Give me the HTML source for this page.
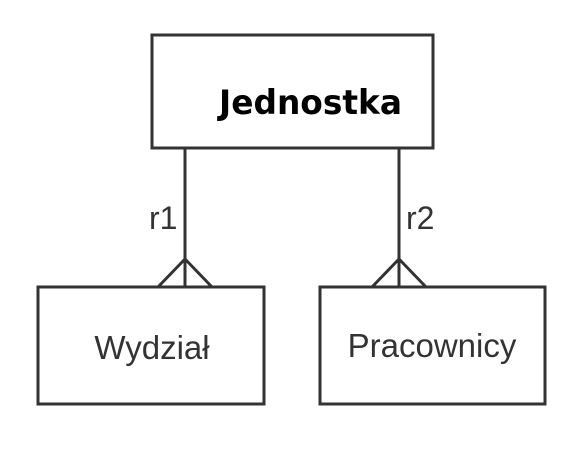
<!DOCTYPE html>
<html><head><style>html,body{margin:0;padding:0;background:#fff;}</style></head>
<body>
<svg width="587" height="445" viewBox="0 0 587 445" xmlns="http://www.w3.org/2000/svg">
<g fill="none" stroke="#333" stroke-width="3">
<rect x="152" y="35" width="281" height="113"/>
<rect x="38" y="287" width="226" height="117"/>
<rect x="320" y="287" width="225" height="117"/>
<line x1="185" y1="148" x2="185" y2="287"/>
<line x1="399" y1="148" x2="399" y2="287"/>
<polyline points="158,287 185,259 212,287"/>
<polyline points="372,287 399,259 426,287"/>
</g>
<text x="219" y="114" font-family="DejaVu Sans, sans-serif" font-weight="bold" font-size="34" fill="#000" textLength="183" lengthAdjust="spacingAndGlyphs">Jednostka</text>
<g font-family="Liberation Sans, sans-serif" fill="#333">
<text x="149" y="229" font-size="32">r1</text>
<text x="406" y="229" font-size="32">r2</text>
<text x="152" y="359" font-size="33" text-anchor="middle">Wydział</text>
<text x="432" y="357" font-size="33" text-anchor="middle">Pracownicy</text>
</g>
</svg>
</body></html>
